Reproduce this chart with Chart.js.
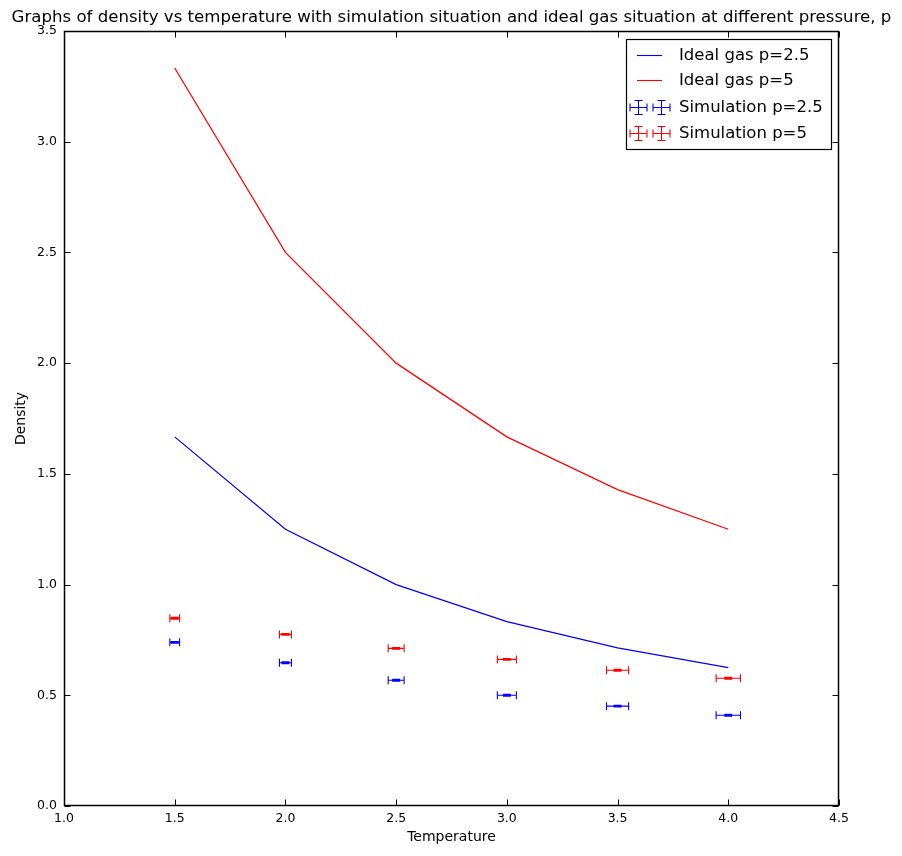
<!DOCTYPE html>
<html>
<head>
<meta charset="utf-8">
<script src="https://cdn.jsdelivr.net/npm/chart.js@4.4.1/dist/chart.umd.min.js"></script>
<style>
html,body{margin:0;padding:0;background:#fff;}
#wrap{width:902px;height:856px;}
</style>
</head>
<body>
<div id="wrap"><canvas id="c" width="902" height="856"></canvas></div>
<script>
// ---- data ----
const chartTitle = "Graphs of density vs temperature with simulation situation and ideal gas situation at different pressure, p";
const xLabel = "Temperature";
const yLabel = "Density";
const temperatures = [1.5, 2.0, 2.5, 3.0, 3.5, 4.0];
const idealP25 = [1.667, 1.25, 1.0, 0.833, 0.714, 0.625];
const idealP5 = [3.333, 2.5, 2.0, 1.667, 1.429, 1.25];
const simP25 = [0.739, 0.647, 0.568, 0.500, 0.451, 0.410];
const simP5 = [0.848, 0.775, 0.712, 0.662, 0.613, 0.577];
const tempErr = [0.022, 0.027, 0.036, 0.043, 0.050, 0.055];
const densErrP25 = [0.004, 0.004, 0.004, 0.004, 0.004, 0.004];
const densErrP5 = [0.004, 0.004, 0.004, 0.004, 0.004, 0.004];
const xTicks = [1.0, 1.5, 2.0, 2.5, 3.0, 3.5, 4.0, 4.5];
const yTicks = [0.0, 0.5, 1.0, 1.5, 2.0, 2.5, 3.0, 3.5];
const seriesLabels = ["Ideal gas p=2.5", "Ideal gas p=5", "Simulation p=2.5", "Simulation p=5"];
const BLUE = "#0000ff", RED = "#ff0000";

Chart.defaults.font.family = "'DejaVu Sans', sans-serif";
Chart.defaults.color = "#000";

function pts(ys) { return temperatures.map((t, i) => ({x: t, y: ys[i]})); }

const errorBarPlugin = {
  id: 'errorBars',
  afterDatasetsDraw(chart) {
    const ctx = chart.ctx;
    const xs = chart.scales.x, ys = chart.scales.y;
    chart.data.datasets.forEach((ds) => {
      if (!ds.errX) return;
      ctx.save();
      ctx.strokeStyle = ds.errColor;
      ctx.lineWidth = 1.1;
      ds.data.forEach((p, i) => {
        const cx = xs.getPixelForValue(p.x);
        const cy = ys.getPixelForValue(p.y);
        const x0 = xs.getPixelForValue(p.x - ds.errX[i]);
        const x1 = xs.getPixelForValue(p.x + ds.errX[i]);
        const y0 = ys.getPixelForValue(p.y - ds.errY[i]);
        const y1 = ys.getPixelForValue(p.y + ds.errY[i]);
        const cap = 4;
        ctx.beginPath();
        ctx.moveTo(x0, cy); ctx.lineTo(x1, cy);
        ctx.moveTo(x0, cy - cap); ctx.lineTo(x0, cy + cap);
        ctx.moveTo(x1, cy - cap); ctx.lineTo(x1, cy + cap);
        ctx.moveTo(cx, y0); ctx.lineTo(cx, y1);
        ctx.moveTo(cx - cap, y0); ctx.lineTo(cx + cap, y0);
        ctx.moveTo(cx - cap, y1); ctx.lineTo(cx + cap, y1);
        ctx.stroke();
      });
      ctx.restore();
    });
  }
};

const framePlugin = {
  id: 'frame',
  afterDraw(chart) {
    const ctx = chart.ctx;
    const a = chart.chartArea;
    const xs = chart.scales.x, ys = chart.scales.y;
    ctx.save();
    ctx.strokeStyle = "#000";
    ctx.lineWidth = 1.5;
    const L = Math.round(a.left) + 0.5, R = Math.round(a.right) - 0.5;
    const T = Math.round(a.top) + 0.5, B = Math.round(a.bottom) - 0.5;
    ctx.strokeRect(L, T, R - L, B - T);
    ctx.lineWidth = 1;
    const tl = 6;
    ctx.beginPath();
    xTicks.forEach(v => {
      const px = Math.round(xs.getPixelForValue(v)) + 0.5;
      ctx.moveTo(px, B); ctx.lineTo(px, B - tl);
      ctx.moveTo(px, T); ctx.lineTo(px, T + tl);
    });
    yTicks.forEach(v => {
      const py = Math.round(ys.getPixelForValue(v)) + 0.5;
      ctx.moveTo(L, py); ctx.lineTo(L + tl, py);
      ctx.moveTo(R, py); ctx.lineTo(R - tl, py);
    });
    ctx.stroke();

    // title
    ctx.fillStyle = "#000";
    ctx.font = "16.6px 'DejaVu Sans'";
    ctx.textAlign = "center";
    ctx.textBaseline = "alphabetic";
    ctx.fillText(chartTitle, (a.left + a.right) / 2, 22);

    // legend
    const bx = 626, by = 39, bw = 205, bh = 110;
    ctx.fillStyle = "#fff";
    ctx.fillRect(bx, by, bw, bh);
    ctx.strokeStyle = "#000";
    ctx.lineWidth = 1.2;
    ctx.strokeRect(bx + 0.5, by + 0.5, bw, bh);
    const rows = [54.5, 80, 106.5, 132.5];
    ctx.font = "16.5px 'DejaVu Sans'";
    ctx.textAlign = "left";
    ctx.textBaseline = "middle";
    const cols = [BLUE, RED, BLUE, RED];
    rows.forEach((ry, i) => {
      ctx.strokeStyle = cols[i];
      ctx.lineWidth = 1.1;
      ctx.beginPath();
      if (i < 2) {
        ctx.moveTo(637, Math.round(ry) + 0.5); ctx.lineTo(662, Math.round(ry) + 0.5);
      } else {
        [638, 661].forEach(cx => {
          const hx = 8.5, hy = 7, c = 4;
          const y = Math.round(ry) + 0.5, x = Math.round(cx) + 0.5;
          ctx.moveTo(x - hx, y); ctx.lineTo(x + hx, y);
          ctx.moveTo(x - hx, y - c); ctx.lineTo(x - hx, y + c);
          ctx.moveTo(x + hx, y - c); ctx.lineTo(x + hx, y + c);
          ctx.moveTo(x, y - hy); ctx.lineTo(x, y + hy);
          ctx.moveTo(x - c, y - hy); ctx.lineTo(x + c, y - hy);
          ctx.moveTo(x - c, y + hy); ctx.lineTo(x + c, y + hy);
        });
      }
      ctx.stroke();
      ctx.fillStyle = "#000";
      ctx.fillText(seriesLabels[i], 679, ry + 1);
    });
    ctx.restore();
  }
};

new Chart(document.getElementById('c'), {
  type: 'scatter',
  data: {
    datasets: [
      {type: 'line', label: seriesLabels[0], data: pts(idealP25), borderColor: BLUE, borderWidth: 1.25, pointRadius: 0, fill: false, tension: 0},
      {type: 'line', label: seriesLabels[1], data: pts(idealP5), borderColor: RED, borderWidth: 1.25, pointRadius: 0, fill: false, tension: 0},
      {type: 'scatter', label: seriesLabels[2], data: pts(simP25), pointRadius: 0, errX: tempErr, errY: densErrP25, errColor: BLUE},
      {type: 'scatter', label: seriesLabels[3], data: pts(simP5), pointRadius: 0, errX: tempErr, errY: densErrP5, errColor: RED}
    ]
  },
  options: {
    responsive: false,
    animation: false,
    events: [],
    layout: {padding: {top: 31, right: 63, left: 0, bottom: 0}},
    plugins: {legend: {display: false}, tooltip: {enabled: false}, title: {display: false}},
    scales: {
      x: {
        type: 'linear', min: 1.0, max: 4.5,
        afterBuildTicks: s => { s.ticks = xTicks.map(v => ({value: v})); },
        afterFit: s => { s.height = 50; },
        grid: {display: false, drawTicks: false},
        border: {display: false},
        ticks: {font: {size: 12.5}, color: '#000', padding: 5, maxRotation: 0, callback: v => Number(v).toFixed(1)},
        title: {display: true, text: xLabel, font: {size: 14}, color: '#000', padding: {top: 0, bottom: 10}}
      },
      y: {
        type: 'linear', min: 0.0, max: 3.5,
        afterBuildTicks: s => { s.ticks = yTicks.map(v => ({value: v})); },
        afterFit: s => { s.width = 64; },
        grid: {display: false, drawTicks: false},
        border: {display: false},
        ticks: {font: {size: 12.5}, color: '#000', padding: 7, callback: v => Number(v).toFixed(1)},
        title: {display: true, text: yLabel, font: {size: 14}, color: '#000', padding: {top: 13, bottom: 0}}
      }
    }
  },
  plugins: [errorBarPlugin, framePlugin]
});
</script>
</body>
</html>
